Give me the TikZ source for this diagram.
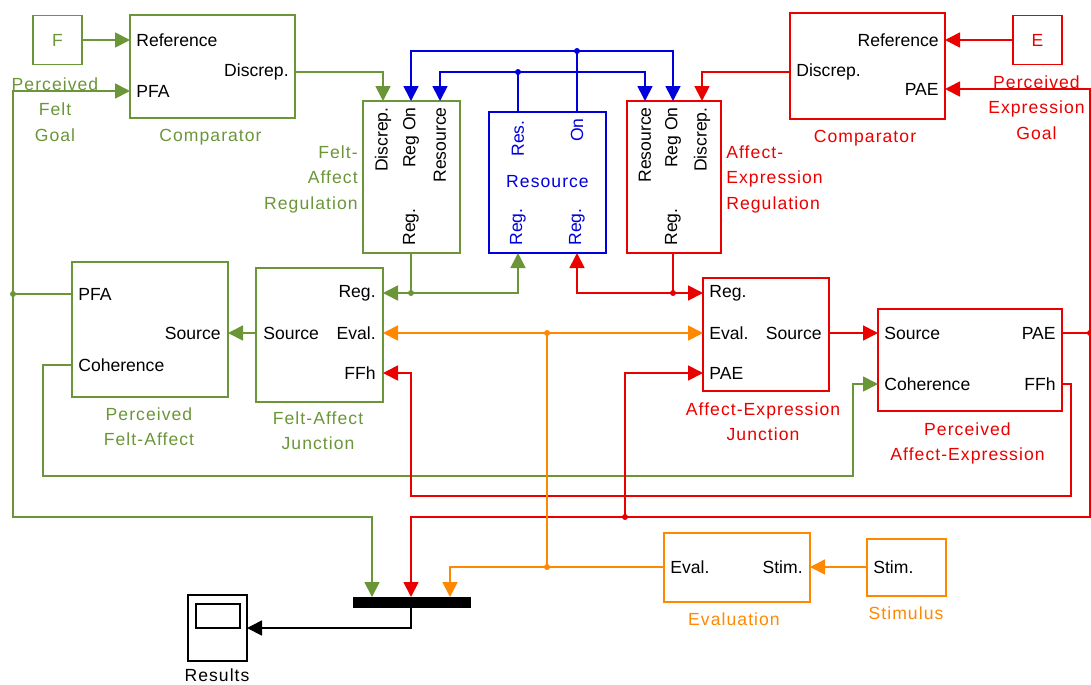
\documentclass[tikz,border=0pt]{standalone}
\usepackage{fontspec}
\setmainfont{Liberation Sans}
\newfontfamily\capfont[LetterSpace=6]{Liberation Sans}
\usetikzlibrary{arrows.meta,positioning}

\definecolor{fgreen}{RGB}{106,150,56}
\definecolor{fred}{RGB}{235,0,0}
\definecolor{fblue}{RGB}{0,0,220}
\definecolor{forange}{RGB}{255,136,0}

\tikzset{
  blk/.style={draw=#1, line width=1pt, inner sep=0pt},
  port/.style={inner sep=0pt, font=\fontsize{10}{12}\selectfont},
  vport/.style={port, rotate=90},
  capt/.style={text=#1, align=center, inner sep=0pt, font=\capfont\fontsize{10}{14.7}\selectfont},
  wire/.style={draw=#1, line width=1pt},
  arr/.style={wire=#1, -{Triangle[length=0.3cm,width=0.3cm]}},
  jdot/.style={circle, fill=#1, inner sep=0pt, minimum size=0.12cm},
}

\begin{document}
\begin{tikzpicture}[x=0.02cm,y=-0.02cm]
  \useasboundingbox (0,0) rectangle (1091,684);

  % blocks
  \node[blk=fgreen, minimum width=0.98cm, minimum height=0.98cm, text=fgreen, font=\fontsize{10}{12}\selectfont] (fgoal) at (57.5,40) {F};
  \node[blk=fgreen, minimum width=3.3cm, minimum height=2.06cm] (fcmp) at (212.5,66.5) {};
  \node[blk=fgreen, minimum width=1.94cm, minimum height=3.04cm] (freg) at (411.5,177) {};
  \node[blk=fgreen, minimum width=3.12cm, minimum height=2.7cm] (pfa) at (150,329.5) {};
  \node[blk=fgreen, minimum width=2.54cm, minimum height=2.68cm] (fjun) at (319.5,335) {};
  \node[blk=fblue, minimum width=2.34cm, minimum height=2.82cm] (res) at (547.5,182.5) {};
  \node[blk=fred, minimum width=1.88cm, minimum height=3.04cm] (ereg) at (674,177) {};
  \node[blk=fred, minimum width=3.1cm, minimum height=2.12cm] (ecmp) at (867.5,66) {};
  \node[blk=fred, minimum width=0.98cm, minimum height=0.98cm, text=fred, font=\fontsize{10}{12}\selectfont] (egoal) at (1037.5,40) {E};
  \node[blk=fred, minimum width=2.52cm, minimum height=2.26cm] (ejun) at (766,334.5) {};
  \node[blk=fred, minimum width=3.68cm, minimum height=2.04cm] (pae) at (970,360) {};
  \node[blk=forange, minimum width=2.92cm, minimum height=1.38cm] (eval) at (737,567.5) {};
  \node[blk=forange, minimum width=1.58cm, minimum height=1.14cm] (stim) at (906.5,567.5) {};
  \node[fill=black, inner sep=0pt, minimum width=2.36cm, minimum height=0.22cm] (bar) at (412,602.5) {};
  \node[draw=black, line width=0.8pt, inner sep=0pt, minimum width=1.18cm, minimum height=1.32cm] (scope) at (217.5,628) {};
  \node[draw=black, line width=0.8pt, inner sep=0pt, minimum width=0.88cm, minimum height=0.48cm] (screen) at (218,616) {};

  % port texts
  \node[port, anchor=west] (fcmp-t1) at (136,40) {Reference};
  \node[port, anchor=west] (fcmp-t2) at (136,91) {PFA};
  \node[port, anchor=east] (fcmp-t3) at (289,72) {Discrep.};
  \node[port, anchor=east] (ecmp-t1) at (939,40) {Reference};
  \node[port, anchor=east] (ecmp-t2) at (939,89) {PAE};
  \node[port, anchor=west] (ecmp-t3) at (796,72) {Discrep.};
  \node[port, anchor=west] (pfa-t1) at (78,294) {PFA};
  \node[port, anchor=east] (pfa-t2) at (221,333) {Source};
  \node[port, anchor=west] (pfa-t3) at (78,365) {Coherence};
  \node[port, anchor=west] (fjun-t1) at (263,333) {Source};
  \node[port, anchor=east] (fjun-t2) at (376,293) {Reg.};
  \node[port, anchor=east] (fjun-t3) at (376,333) {Eval.};
  \node[port, anchor=east] (fjun-t4) at (376,373) {FFh};
  \node[port, anchor=west] (ejun-t1) at (709,293) {Reg.};
  \node[port, anchor=west] (ejun-t2) at (709,333) {Eval.};
  \node[port, anchor=west] (ejun-t3) at (709,373) {PAE};
  \node[port, anchor=east] (ejun-t4) at (822,333) {Source};
  \node[port, anchor=west] (pae-t1) at (884,333) {Source};
  \node[port, anchor=west] (pae-t2) at (884,384) {Coherence};
  \node[port, anchor=east] (pae-t3) at (1056,333) {PAE};
  \node[port, anchor=east] (pae-t4) at (1056,384) {FFh};
  \node[port, anchor=west] (eval-t1) at (670,567) {Eval.};
  \node[port, anchor=east] (eval-t2) at (803,567) {Stim.};
  \node[port, anchor=west] (stim-t1) at (873,567) {Stim.};
  \node[vport, anchor=east] (freg-t1) at (383,107) {Discrep.};
  \node[vport, anchor=east] (freg-t2) at (411,107) {Reg On};
  \node[vport, anchor=east] (freg-t3) at (440,107) {Resource};
  \node[vport, anchor=west] (freg-t4) at (411,246) {Reg.};
  \node[vport, anchor=east, text=fblue] (res-t1) at (518,120) {Res.};
  \node[vport, anchor=east, text=fblue] (res-t2) at (577,118) {On};
  \node[vport, anchor=west, text=fblue] (res-t3) at (518,246) {Reg.};
  \node[vport, anchor=west, text=fblue] (res-t4) at (577,246) {Reg.};
  \node[port, text=fblue, font=\capfont\fontsize{10}{12}\selectfont] (res-t5) at (547.5,182) {Resource};
  \node[vport, anchor=east] (ereg-t1) at (645,107) {Resource};
  \node[vport, anchor=east] (ereg-t2) at (673,107) {Reg On};
  \node[vport, anchor=east] (ereg-t3) at (702,107) {Discrep.};
  \node[vport, anchor=west] (ereg-t4) at (673,246) {Reg.};

  % captions
  \node[capt=fgreen, anchor=north] (fgoal-c) at (55,77) {Perceived\\Felt\\Goal};
  \node[capt=fgreen, anchor=north] (fcmp-c) at (210.5,129) {Comparator};
  \node[capt=fgreen, align=right, anchor=north east] (freg-c) at (358,145) {Felt-\\Affect\\Regulation};
  \node[capt=fgreen, anchor=north] (pfa-c) at (149,407) {Perceived\\Felt-Affect};
  \node[capt=fgreen, anchor=north] (fjun-c) at (318,411) {Felt-Affect\\Junction};
  \node[capt=fred, align=left, anchor=north west] (ereg-c) at (726,145) {Affect-\\Expression\\Regulation};
  \node[capt=fred, anchor=north] (ecmp-c) at (865,130) {Comparator};
  \node[capt=fred, anchor=north] (egoal-c) at (1036.5,75) {Perceived\\Expression\\Goal};
  \node[capt=fred, anchor=north] (ejun-c) at (763,402) {Affect-Expression\\Junction};
  \node[capt=fred, anchor=north] (pae-c) at (967.5,422) {Perceived\\Affect-Expression};
  \node[capt=forange, anchor=north] (eval-c) at (734,612) {Evaluation};
  \node[capt=forange, anchor=north] (stim-c) at (906,606) {Stimulus};
  \node[capt=black, anchor=north] (scope-c) at (217,668) {Results};

  % ports
  \coordinate (fcmp-ref) at (130,40);
  \coordinate (fcmp-pfa) at (130,91);
  \coordinate (fcmp-dis) at (295,72);
  \coordinate (freg-dis) at (383,101);
  \coordinate (freg-on) at (411,101);
  \coordinate (freg-res) at (440,101);
  \coordinate (freg-reg) at (411,253);
  \coordinate (pfa-pfa) at (72,294);
  \coordinate (pfa-src) at (228,333);
  \coordinate (pfa-coh) at (72,365);
  \coordinate (fjun-src) at (256,333);
  \coordinate (fjun-reg) at (383,293);
  \coordinate (fjun-eval) at (383,333);
  \coordinate (fjun-ffh) at (383,373);
  \coordinate (res-res) at (518,112);
  \coordinate (res-on) at (577,112);
  \coordinate (res-greg) at (518,253);
  \coordinate (res-rreg) at (577,253);
  \coordinate (ereg-res) at (645,101);
  \coordinate (ereg-on) at (673,101);
  \coordinate (ereg-dis) at (702,101);
  \coordinate (ereg-reg) at (673,253);
  \coordinate (ecmp-ref) at (945,40);
  \coordinate (ecmp-pae) at (945,89);
  \coordinate (ecmp-dis) at (790,72);
  \coordinate (ejun-reg) at (703,293);
  \coordinate (ejun-eval) at (703,333);
  \coordinate (ejun-pae) at (703,373);
  \coordinate (ejun-src) at (829,333);
  \coordinate (pae-src) at (878,333);
  \coordinate (pae-coh) at (878,384);
  \coordinate (pae-pae) at (1062,333);
  \coordinate (pae-ffh) at (1062,384);
  \coordinate (eval-eval) at (664,567);
  \coordinate (eval-stim) at (810,567);
  \coordinate (stim-out) at (867,567);
  \coordinate (bar-g) at (372,597);
  \coordinate (bar-r) at (411,597);
  \coordinate (bar-o) at (450,597);
  \coordinate (bar-out) at (411,608);
  \coordinate (scope-in) at (247,628);

  % junction dots
  \node[jdot=fgreen] (gd1) at (13,294) {};
  \node[jdot=fgreen] (gd2) at (411,293) {};
  \node[jdot=fblue] (bd1) at (577,51) {};
  \node[jdot=fblue] (bd2) at (518,72) {};
  \node[jdot=fred] (rd1) at (1090,333) {};
  \node[jdot=fred] (rd2) at (625,517) {};
  \node[jdot=fred] (rd3) at (673,293) {};
  \node[jdot=forange] (od1) at (547,567) {};
  \node[jdot=forange] (od2) at (547,333) {};

  % green lines
  \draw[arr=fgreen] (fgoal.east) -- (fcmp-ref);
  \draw[wire=fgreen] (pfa-pfa) -- (gd1.center);
  \draw[arr=fgreen] (gd1.center) |- (fcmp-pfa);
  \draw[arr=fgreen] (gd1.center) -- (13,517) -| (bar-g);
  \draw[arr=fgreen] (fcmp-dis) -| (freg-dis);
  \draw[wire=fgreen] (freg-reg) -- (gd2.center);
  \draw[arr=fgreen] (gd2.center) -- (fjun-reg);
  \draw[arr=fgreen] (gd2.center) -| (res-greg);
  \draw[arr=fgreen] (fjun-src) -- (pfa-src);
  \draw[arr=fgreen] (pfa-coh) -| (43,476) -| (853,384) -- (pae-coh);

  % blue lines
  \draw[wire=fblue] (res-on) -- (bd1.center);
  \draw[arr=fblue] (bd1.center) -| (freg-on);
  \draw[arr=fblue] (bd1.center) -| (ereg-on);
  \draw[wire=fblue] (res-res) -- (bd2.center);
  \draw[arr=fblue] (bd2.center) -| (freg-res);
  \draw[arr=fblue] (bd2.center) -| (ereg-res);

  % red lines
  \draw[arr=fred] (egoal.west) -- (ecmp-ref);
  \draw[arr=fred] (ecmp-dis) -| (ereg-dis);
  \draw[wire=fred] (ereg-reg) -- (rd3.center);
  \draw[arr=fred] (rd3.center) -- (ejun-reg);
  \draw[arr=fred] (rd3.center) -| (res-rreg);
  \draw[arr=fred] (ejun-src) -- (pae-src);
  \draw[wire=fred] (pae-pae) -- (rd1.center) |- (rd2.center);
  \draw[arr=fred] (rd1.center) |- (ecmp-pae);
  \draw[arr=fred] (rd2.center) -| (bar-r);
  \draw[arr=fred] (rd2.center) |- (ejun-pae);
  \draw[arr=fred] (pae-ffh) -| (1071,496) -| (411,373) -- (fjun-ffh);

  % orange lines
  \draw[arr=forange] (stim-out) -- (eval-stim);
  \draw[wire=forange] (eval-eval) -- (od1.center);
  \draw[arr=forange] (od1.center) -| (bar-o);
  \draw[wire=forange] (od1.center) -- (od2.center);
  \draw[arr=forange] (od2.center) -- (fjun-eval);
  \draw[arr=forange] (od2.center) -- (ejun-eval);

  \draw[arr=black] (bar-out) |- (scope-in);
\end{tikzpicture}
\end{document}
